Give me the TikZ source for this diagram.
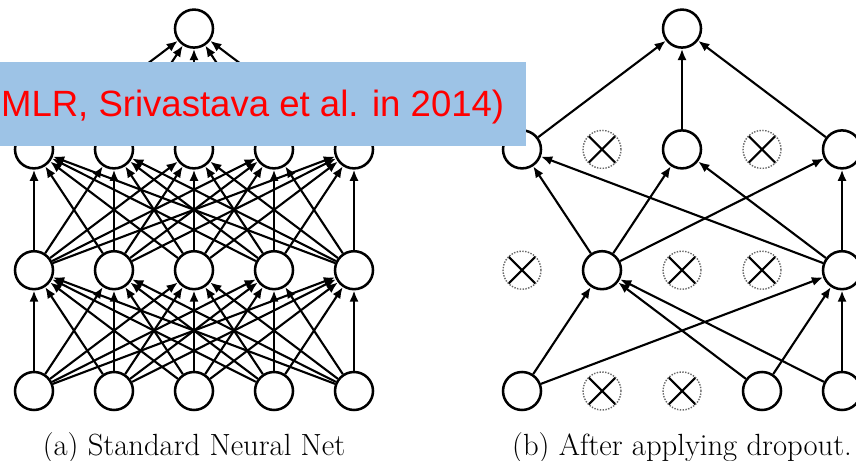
\documentclass[tikz,border=0pt]{standalone}
\usepackage{fontspec}
\newfontfamily\bannerfont{Liberation Sans}
\usetikzlibrary{arrows.meta}
\definecolor{bannerblue}{RGB}{157,195,230}

\begin{document}
\begin{tikzpicture}[>={Latex[length=8pt,width=6.5pt]},
  unit/.style={circle,draw,line width=1.8pt,fill=white,minimum size=0.95cm,inner sep=0pt},
  drop/.style={circle,draw=black!60,densely dotted,line width=1pt,minimum size=0.95cm,inner sep=0pt,
    path picture={\draw[solid,black,line width=1.5pt]
      (path picture bounding box.north west) -- (path picture bounding box.south east)
      (path picture bounding box.north east) -- (path picture bounding box.south west);}},
  conn/.style={->,line width=1.5pt},
  caption/.style={font=\fontsize{21.8}{24}\selectfont,anchor=base}]
\useasboundingbox (0,0) rectangle (21.4,11.525);
\clip (0,0) rectangle (21.4,11.525);

% (a) fully connected net
\foreach \i in {1,...,5} {
  \node[unit] (ax\i) at ({0.85+2*(\i-1)},1.75) {};
  \node[unit] (ah\i) at ({0.85+2*(\i-1)},4.77) {};
  \node[unit] (ag\i) at ({0.85+2*(\i-1)},7.79) {};
}
\node[unit] (ay) at (4.85,10.81) {};
\foreach \i in {1,...,5}
  \foreach \j in {1,...,5} {
    \draw[conn] (ax\i) -- (ah\j);
    \draw[conn] (ah\i) -- (ag\j);
  }
\foreach \i in {1,...,5} \draw[conn] (ag\i) -- (ay);
\node[caption] (capa) at (4.85,0.13) {(a) Standard Neural Net};

% (b) thinned net, crossed units are dropped
\foreach \i/\s in {1/unit,2/drop,3/drop,4/unit,5/unit}
  \node[\s] (bx\i) at ({13.05+2*(\i-1)},1.75) {};
\foreach \i/\s in {1/drop,2/unit,3/drop,4/drop,5/unit}
  \node[\s] (bh\i) at ({13.05+2*(\i-1)},4.77) {};
\foreach \i/\s in {1/unit,2/drop,3/unit,4/drop,5/unit}
  \node[\s] (bg\i) at ({13.05+2*(\i-1)},7.79) {};
\node[unit] (by) at (17.05,10.81) {};
\foreach \i in {1,4,5}
  \foreach \j in {2,5}
    \draw[conn] (bx\i) -- (bh\j);
\foreach \i in {2,5}
  \foreach \j in {1,3,5}
    \draw[conn] (bh\i) -- (bg\j);
\foreach \i in {1,3,5} \draw[conn] (bg\i) -- (by);
\node[caption] (capb) at (17.05,0.13) {(b) After applying dropout.};

% banner on top
\fill[bannerblue] (0,7.875) rectangle (13.15,9.975);
\node[anchor=base west,inner sep=0pt,text=red,font=\bannerfont\fontsize{26}{30}\selectfont]
  (cite) at (0.02,8.6) {MLR, Srivastava et al. in 2014)};
\end{tikzpicture}
\end{document}
